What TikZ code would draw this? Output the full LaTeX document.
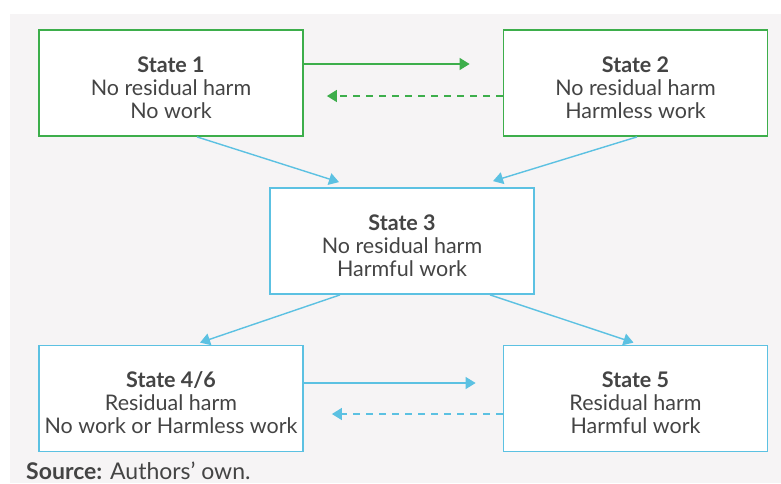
\documentclass[tikz,border=0pt]{standalone}
\usepackage{fontspec}
\setmainfont{Lato}
\usetikzlibrary{arrows.meta}
\definecolor{bgc}{HTML}{F6F4F5}
\definecolor{grn}{HTML}{3DAE4B}
\definecolor{blu}{HTML}{5CC1E2}
\definecolor{txt}{HTML}{444444}
\tikzset{
  statebox/.style={draw=#1, line width=1.8pt, fill=white, minimum width=264pt, minimum height=106pt,
    inner sep=0pt},
  statetext/.style={label={[yshift=-4.5pt, inner sep=0pt, align=center, text=txt,
    font=\fontsize{21.5}{23}\selectfont]center:#1}},
  conn/.style={draw=#1, line width=1.4pt, -{Triangle[length=10pt,width=12pt]}},
  dashconn/.style={conn=#1, dash pattern=on 7pt off 6pt},
}
\begin{document}
\begin{tikzpicture}[x=1pt,y=-1pt]
\useasboundingbox (0,0) rectangle (781,483);
\fill[bgc] (10,14) rectangle (781,483);
\node[statebox=grn, statetext={\textbf{State 1}\\No residual harm\\No work}] (s1) at (171,83) {};
\node[statebox=grn, statetext={\textbf{State 2}\\No residual harm\\Harmless work}] (s2) at (635.5,83) {};
\node[statebox=blu, statetext={\textbf{State 3}\\No residual harm\\Harmful work}] (s3) at (402,241) {};
\node[statebox=blu, statetext={\textbf{State 4/6}\\Residual harm\\No work or Harmless work}] (s4) at (171,398.5) {};
\node[statebox=blu, statetext={\textbf{State 5}\\Residual harm\\Harmful work}] (s5) at (635.5,398.5) {};
% horizontal
\draw[conn=grn, shorten >=33pt] ([yshift=19pt]s1.east) -- ([yshift=19pt]s2.west);
\draw[dashconn=grn, shorten >=23pt] ([yshift=-13pt]s2.west) -- ([yshift=-13pt]s1.east);
\draw[conn=blu, shorten >=27pt] ([yshift=15.5pt]s4.east) -- ([yshift=15.5pt]s5.west);
\draw[dashconn=blu, shorten >=28pt] ([yshift=-15.5pt]s5.west) -- ([yshift=-15.5pt]s4.east);
% diagonals
\draw[conn=blu] ([xshift=26pt]s1.south) -- ([xshift=-63pt,yshift=5pt]s3.north);
\draw[conn=blu] ([xshift=1.5pt]s2.south) -- ([xshift=91pt,yshift=6pt]s3.north);
\draw[conn=blu] ([xshift=-62pt]s3.south) -- ([xshift=29pt,yshift=2pt]s4.north);
\draw[conn=blu] ([xshift=88pt]s3.south) -- ([xshift=-2pt,yshift=2pt]s5.north);
\node[anchor=base west, inner sep=0pt, text=txt, font=\fontsize{23}{25}\selectfont] (src) at (26,479) {\textbf{Source:} Authors’ own.};
\end{tikzpicture}
\end{document}
